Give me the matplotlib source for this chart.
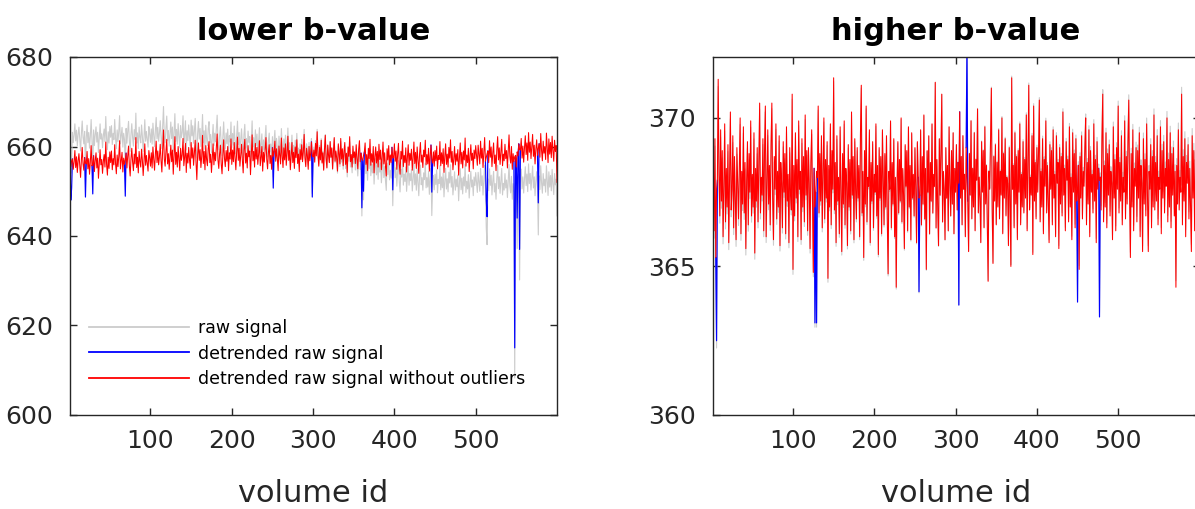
import numpy as np
import matplotlib
matplotlib.use("Agg")
import matplotlib.pyplot as plt

# ---------------- data ----------------
volume_ids = np.arange(1, 601)

# lower b-value: detrended raw signal (blue), one value per volume
detrended_left = [
    655.8, 648.0, 650.7, 657.2, 654.9, 656.6, 659.1, 655.3, 657.7, 654.2, 656.8, 658.4, 655.6, 653.1, 657.0, 659.8, 656.2, 654.7, 657.5, 648.7, 656.1, 658.9, 655.0, 657.3, 653.8,
    656.5, 660.2, 655.7, 649.4, 657.9, 654.4, 656.9, 658.6, 655.2, 657.4, 652.9, 656.3, 659.3, 655.9, 657.1, 654.0, 656.7, 658.2, 655.4, 661.0, 656.0, 653.6, 657.6, 655.1, 658.8,
    656.4, 659.0, 654.8, 657.3, 655.9, 660.4, 656.2, 653.9, 658.1, 655.5, 657.8, 661.3, 655.0, 656.9, 658.7, 654.3, 657.4, 656.0, 648.9, 658.5, 655.2, 657.9, 660.1, 655.7, 653.4,
    657.2, 659.6, 656.5, 654.6, 658.3, 656.1, 662.0, 655.3, 657.6, 654.1, 658.9, 656.7, 655.4, 659.4, 657.0, 653.5, 656.6, 660.6, 655.8, 658.0, 656.3, 654.5, 659.1, 657.5, 655.6,
    658.6, 655.2, 659.9, 657.1, 654.7, 658.3, 661.2, 656.4, 659.0, 655.9, 657.7, 660.5, 656.8, 654.3, 659.4, 663.7, 657.2, 655.6, 658.9, 661.6, 656.1, 658.4, 654.9, 657.5, 660.3,
    656.6, 659.2, 653.8, 657.9, 662.2, 656.0, 658.7, 655.4, 660.0, 657.3, 654.6, 659.6, 656.9, 658.1, 661.8, 655.7, 657.6, 660.7, 654.2, 658.5, 656.3, 659.8, 657.0, 655.1, 660.9,
    657.4, 659.7, 655.8, 658.6, 661.4, 656.5, 652.6, 658.2, 660.8, 656.9, 659.3, 655.3, 657.8, 662.5, 656.2, 658.9, 654.8, 660.2, 657.1, 655.7, 659.5, 661.1, 656.4, 658.3, 654.2,
    657.6, 660.6, 655.9, 658.7, 656.8, 659.9, 662.8, 657.0, 655.1, 658.4, 660.3, 656.1, 653.9, 658.0, 661.5, 657.3, 655.5, 659.1, 656.7, 660.0, 654.6, 658.6, 657.2, 661.7, 656.0,
    659.2, 656.6, 660.9, 657.5, 654.8, 658.8, 662.1, 656.9, 659.6, 655.6, 658.1, 660.5, 657.0, 654.1, 659.3, 661.6, 656.3, 658.5, 655.2, 660.2, 657.7, 659.0, 653.7, 657.9, 662.6,
    656.8, 658.9, 655.4, 660.7, 657.2, 659.8, 656.0, 658.3, 661.3, 655.7, 657.6, 660.0, 654.5, 658.7, 656.5, 659.4, 662.0, 657.1, 655.0, 658.6, 660.4, 656.2, 658.0, 654.9, 659.7,
    650.7, 658.9, 661.2, 656.7, 659.5, 657.3, 654.6, 660.1, 658.2, 656.1, 661.9, 657.8, 655.3, 659.7, 657.0, 660.6, 655.8, 658.4, 662.3, 656.9, 659.1, 654.8, 658.0, 660.9, 656.4,
    658.7, 655.1, 659.9, 657.5, 661.5, 656.2, 658.3, 654.4, 659.3, 657.1, 660.4, 656.6, 658.8, 662.7, 657.4, 655.5, 659.6, 657.9, 654.9, 660.0, 656.8, 658.5, 661.0, 648.7, 657.7,
    659.2, 656.5, 660.7, 657.9, 663.3, 658.1, 655.6, 659.8, 657.0, 661.4, 656.3, 658.6, 654.7, 659.4, 662.5, 657.3, 655.2, 660.3, 658.0, 656.4, 661.1, 657.6, 659.7, 655.0, 658.8,
    662.0, 656.7, 659.0, 657.4, 654.5, 660.6, 658.3, 656.1, 661.8, 657.2, 659.5, 655.7, 658.9, 660.9, 656.0, 658.5, 654.2, 659.9, 657.8, 662.2, 656.6, 658.2, 655.4, 660.1, 657.5,
    658.8, 656.2, 660.4, 657.4, 655.0, 659.3, 661.3, 656.6, 658.5, 646.3, 656.9, 650.0, 658.7, 660.8, 656.0, 658.2, 654.6, 659.6, 657.3, 661.6, 655.8, 658.4, 656.5, 660.0, 654.1,
    657.8, 659.9, 656.3, 658.9, 655.4, 660.5, 657.1, 659.2, 654.8, 657.7, 661.0, 656.1, 658.6, 655.6, 653.4, 659.5, 657.0, 660.2, 655.9, 658.1, 656.4, 659.8, 650.3, 657.5, 660.6,
    656.7, 659.0, 654.9, 658.3, 660.7, 656.0, 653.8, 658.9, 657.2, 661.2, 655.5, 658.0, 656.4, 659.7, 654.3, 657.6, 660.4, 655.8, 658.5, 656.9, 659.4, 654.7, 657.3, 661.0, 656.2,
    658.7, 655.1, 659.9, 657.0, 654.0, 658.4, 660.9, 656.5, 658.1, 655.3, 659.2, 657.7, 661.4, 655.9, 658.2, 656.1, 659.6, 654.5, 657.9, 660.3, 649.8, 656.3, 658.8, 655.6, 659.1,
    656.8, 660.1, 655.0, 658.0, 657.1, 661.1, 655.7, 658.6, 656.2, 659.5, 654.2, 657.8, 660.6, 656.0, 658.3, 655.4, 659.8, 657.4, 661.5, 656.5, 658.9, 654.8, 657.2, 660.0, 655.9,
    658.4, 656.7, 659.3, 653.6, 657.5, 660.8, 656.1, 658.7, 655.2, 659.0, 657.0, 661.9, 655.6, 658.1, 656.4, 659.6, 654.4, 657.7, 660.4, 656.9, 658.5, 655.0, 659.2, 657.3, 660.2,
    657.9, 655.8, 660.3, 658.2, 656.1, 661.2, 657.4, 659.6, 655.3, 658.8, 662.0, 656.7, 648.0, 644.3, 659.0, 656.4, 661.3, 657.6, 659.9, 655.5, 658.5, 660.8, 656.2, 658.1, 654.6,
    659.4, 662.2, 657.0, 659.7, 656.0, 658.9, 661.6, 655.7, 658.3, 656.8, 660.5, 657.3, 659.1, 655.2, 658.7, 662.6, 657.8, 656.3, 660.0, 654.9, 658.4, 656.6, 615.0, 658.0, 655.4,
    644.0, 657.9, 660.6, 637.0, 659.2, 661.8, 657.4, 660.1, 656.5, 659.7, 662.4, 658.2, 660.8, 656.9, 663.1, 658.7, 661.0, 657.3, 659.9, 662.7, 657.8, 660.3, 656.1, 659.4, 661.5,
    658.0, 647.4, 660.6, 657.6, 662.9, 659.1, 656.8, 661.2, 658.5, 660.0, 657.1, 663.0, 659.6, 656.4, 661.7, 658.3, 660.9, 657.5, 662.3, 659.0, 656.7, 661.4, 658.9, 660.2, 652.0,
]
# volumes flagged as outliers and the values the cleaned (red) signal has there
outlier_vol_left = [2, 3, 20, 29, 69, 251, 299, 360, 362, 398, 446, 513, 514, 548, 551, 554, 577]
cleaned_left = [655.5, 656.8, 656.4, 656.0, 657.0, 657.8, 658.0, 657.2, 658.0, 657.4, 657.1,
                657.6, 658.4, 657.7, 658.8, 659.3, 659.6]
# removed trend (raw minus detrended) read at a few volume ids
trend_vol_left = [1, 150, 250, 320, 430, 600]
trend_left = [6.0, 5.0, 2.5, 0.0, -5.0, -7.5]

# higher b-value: detrended raw signal (blue)
detrended_right = [
    367.4, 368.6, 366.2, 369.3, 365.3, 362.5, 367.9, 371.3, 368.1, 366.7, 369.6, 367.2, 368.9, 366.0, 367.7, 369.8, 366.5, 368.3, 367.0, 369.1, 365.8, 368.0, 370.2, 366.9, 367.6,
    369.4, 366.3, 368.7, 367.3, 365.9, 369.0, 367.8, 366.6, 368.4, 370.0, 366.1, 368.2, 367.1, 369.7, 366.8, 368.5, 365.6, 367.9, 369.2, 366.4, 368.8, 367.5, 369.9, 366.7, 368.1,
    367.0, 369.5, 365.45, 368.3, 367.2, 369.0, 366.5, 368.6, 370.5, 366.8, 368.0, 367.4, 369.3, 366.2, 368.9, 370.4, 366.0, 367.7, 369.6, 367.1, 368.4, 366.4, 369.1, 370.5, 367.3,
    365.9, 368.7, 367.6, 369.8, 366.6, 368.2, 367.0, 369.4, 365.7, 368.5, 367.8, 366.3, 369.2, 367.5, 368.8, 366.1, 369.7, 367.2, 368.1, 365.8, 369.0, 367.4, 366.9, 370.8, 364.9,
    368.4, 366.7, 369.5, 367.3, 368.6, 366.0, 369.9, 367.6, 368.2, 365.9, 369.3, 367.0, 368.7, 366.5, 370.1, 367.4, 368.9, 366.2, 369.0, 367.8, 365.6, 368.5, 369.6, 367.1, 364.8,
    368.3, 363.1, 367.5, 363.1, 368.0, 370.4, 366.8, 368.8, 367.2, 369.4, 366.3, 368.1, 370.0, 366.6, 368.6, 367.3, 369.2, 364.6, 368.4, 367.0, 369.8, 366.4, 368.9, 367.6, 371.35,
    366.9, 368.5, 365.8, 369.4, 367.2, 368.0, 366.1, 369.7, 367.5, 365.5, 368.8, 367.1, 369.9, 366.4, 368.3, 367.8, 365.7, 369.1, 367.0, 368.6, 366.2, 370.2, 367.4, 368.7, 365.9,
    369.3, 367.6, 366.6, 369.0, 367.3, 368.4, 366.0, 369.5, 371.1, 366.8, 368.2, 365.3, 368.9, 367.1, 370.4, 366.5, 368.0, 367.7, 369.6, 365.8, 368.5, 367.2, 369.2, 366.3, 368.1,
    367.5, 369.8, 366.7, 368.4, 365.4, 369.0, 367.3, 368.7, 366.1, 369.6, 367.9, 366.4, 368.8, 367.0, 369.4, 366.6, 364.75, 368.2, 367.6, 369.9, 366.3, 368.5, 367.1, 369.3, 366.0,
    368.0, 364.3, 367.8, 369.2, 366.8, 368.6, 367.2, 370.0, 366.5, 368.3, 367.4, 365.6, 369.1, 367.7, 368.9, 366.2, 369.7, 367.0, 368.4, 365.9, 369.5, 367.3, 368.1, 366.7, 369.0,
    367.6, 365.8, 369.2, 368.0, 364.15, 367.4, 369.6, 366.4, 368.7, 367.1, 370.1, 366.6, 368.3, 364.9, 368.9, 367.5, 369.4, 366.1, 368.5, 367.2, 369.8, 366.8, 368.1, 367.7, 371.2,
    366.3, 368.6, 367.0, 365.7, 369.3, 367.4, 368.8, 370.8, 366.5, 368.2, 367.6, 365.9, 369.0, 367.3, 368.4, 366.2, 369.7, 367.8, 366.7, 368.9, 367.1, 369.5, 366.1, 368.3, 367.5,
    369.1, 366.9, 368.5, 363.7, 370.2, 367.3, 368.7, 366.4, 369.4, 367.6, 368.1, 366.0, 369.0, 372.5, 367.2, 365.5, 368.8, 367.4, 369.9, 366.6, 368.3, 367.0, 369.5, 366.2, 368.6,
    367.9, 370.3, 366.8, 368.0, 367.3, 365.8, 369.2, 367.5, 368.9, 366.3, 369.7, 367.1, 368.4, 366.5, 364.5, 368.2, 367.6, 369.4, 371.0, 366.9, 365.1, 368.7, 367.2, 369.1, 366.4,
    368.5, 367.0, 369.6, 366.6, 368.2, 367.4, 370.0, 366.1, 368.8, 367.3, 369.3, 366.7, 368.0, 367.8, 365.7, 369.0, 367.2, 365.0, 371.35, 367.6, 368.4, 366.3, 369.5, 367.1, 368.7,
    365.9, 368.9, 367.5, 369.8, 366.4, 368.1, 367.0, 369.2, 366.8, 368.6, 367.3, 370.1, 366.2, 368.3, 371.1, 366.9, 368.0, 367.4, 369.4, 365.4, 370.4, 367.2, 368.5, 366.6, 369.0,
    367.5, 368.8, 370.6, 366.5, 368.2, 367.0, 369.3, 366.1, 368.6, 367.7, 369.9, 366.8, 368.4, 367.2, 365.8, 369.1, 367.6, 368.9, 366.4, 369.6, 367.3, 368.1, 366.0, 369.4, 367.8,
    368.5, 365.6, 369.0, 367.1, 368.7, 366.7, 370.2, 367.4, 368.3, 366.2, 369.2, 367.9, 368.6, 366.5, 369.7, 367.0, 368.0, 365.9, 369.5, 367.5, 368.8, 366.3, 369.3, 367.2, 363.8,
    368.4, 364.9, 368.7, 367.3, 369.4, 366.6, 368.2, 367.7, 369.0, 370.0, 366.4, 368.5, 367.1, 369.6, 366.0, 368.9, 367.5, 368.1, 366.8, 369.8, 367.2, 368.6, 365.8, 369.2, 367.6,
    368.3, 363.3, 368.0, 366.9, 369.3, 370.8, 366.5, 368.4, 367.0, 369.5, 366.3, 368.8, 367.4, 369.1, 366.7, 368.2, 367.8, 365.9, 369.7, 367.3, 368.6, 366.2, 369.0, 367.6, 370.4,
    366.8, 368.5, 367.2, 369.4, 366.4, 368.0, 367.5, 369.9, 366.6, 368.7, 367.1, 369.2, 370.6, 367.4, 365.3, 368.8, 367.0, 369.6, 366.2, 368.3, 367.7, 369.0, 366.5, 368.9, 367.3,
    369.5, 366.0, 368.4, 367.8, 365.5, 369.3, 367.1, 368.6, 366.7, 369.8, 367.4, 365.5, 368.2, 367.6, 369.1, 366.3, 368.7, 367.0, 370.1, 366.9, 368.5, 367.2, 369.4, 366.4, 368.0,
    367.6, 369.7, 366.1, 368.9, 367.3, 369.2, 366.8, 368.3, 367.7, 370.0, 366.5, 368.6, 367.0, 369.5, 366.3, 368.8, 367.4, 369.0, 366.7, 368.2, 364.3, 368.4, 367.1, 369.6, 366.9,
    368.0, 367.5, 370.8, 366.4, 368.7, 367.2, 369.3, 366.0, 368.5, 367.8, 369.1, 366.6, 368.3, 367.0, 365.5, 369.4, 367.3, 368.9, 366.2, 368.6, 367.6, 369.8, 366.8, 368.1, 367.4,
]
outlier_vol_right = [6, 127, 129, 255, 304, 314, 450, 477]
cleaned_right = [367.6, 367.0, 368.2, 367.3, 367.8, 368.0, 367.6, 367.9]
trend_vol_right = [1, 600]
trend_right = [-0.25, 0.25]

titles = ["lower b-value", "higher b-value"]
legend_labels = ["raw signal", "detrended raw signal", "detrended raw signal without outliers"]

# ---------------- figure ----------------
plt.rcParams["font.family"] = ["DejaVu Sans"]
W, H = 1195, 509
fig = plt.figure(figsize=(W / 100, H / 100), dpi=100)
ax1 = fig.add_axes([70 / W, 94 / H, 487 / W, 358 / H])
ax2 = fig.add_axes([712.5 / W, 94 / H, 487 / W, 358 / H])

dark = "#262626"


def build(detr, vols, clean, tv, tr):
    blue = np.array(detr, dtype=float)
    red = blue.copy()
    idx = np.array(vols) - 1
    red[idx] = clean
    raw = blue + np.interp(volume_ids, tv, tr)
    # the blue curve is hidden under the red one except around the outliers
    near = np.zeros(blue.size, dtype=bool)
    for k in (-1, 0, 1):
        near[np.clip(idx + k, 0, blue.size - 1)] = True
    blue_vis = np.where(near, blue, np.nan)
    return raw, blue_vis, red


series = [
    build(detrended_left, outlier_vol_left, cleaned_left, trend_vol_left, trend_left),
    build(detrended_right, outlier_vol_right, cleaned_right, trend_vol_right, trend_right),
]

for ax, (raw, blue, red), title in zip([ax1, ax2], series, titles):
    ax.plot(volume_ids, raw, color="#cccccc", lw=0.8, label=legend_labels[0])
    ax.plot(volume_ids, blue, color="#0000ff", lw=0.85, label=legend_labels[1])
    ax.plot(volume_ids, red, color="#ff0000", lw=0.75, label=legend_labels[2])
    ax.set_xlim(1, 600)
    ax.set_xticks([100, 200, 300, 400, 500])
    ax.set_title(title, fontsize=22, fontweight="bold", pad=12, color="black")
    ax.set_xlabel("volume id", fontsize=22, color=dark, labelpad=19)
    ax.tick_params(direction="in", top=True, right=True, length=5, width=1,
                   labelsize=18, colors=dark)
    ax.tick_params(axis="x", pad=10)
    ax.tick_params(axis="y", pad=12)
    for s in ax.spines.values():
        s.set_color(dark)
        s.set_linewidth(1.0)

ax1.set_ylim(600, 680)
ax1.set_yticks([600, 620, 640, 660, 680])
ax2.set_ylim(360, 372.05)
ax2.set_yticks([360, 365, 370])

leg = ax1.legend(loc="lower left", bbox_to_anchor=(0.038, 0.076), frameon=False,
                 fontsize=12.5, handlelength=5.8, handletextpad=0.5, labelspacing=0.42,
                 borderpad=0, borderaxespad=0)
for h in leg.get_lines():
    h.set_linewidth(1.3)

fig.savefig("out.png", dpi=100)
